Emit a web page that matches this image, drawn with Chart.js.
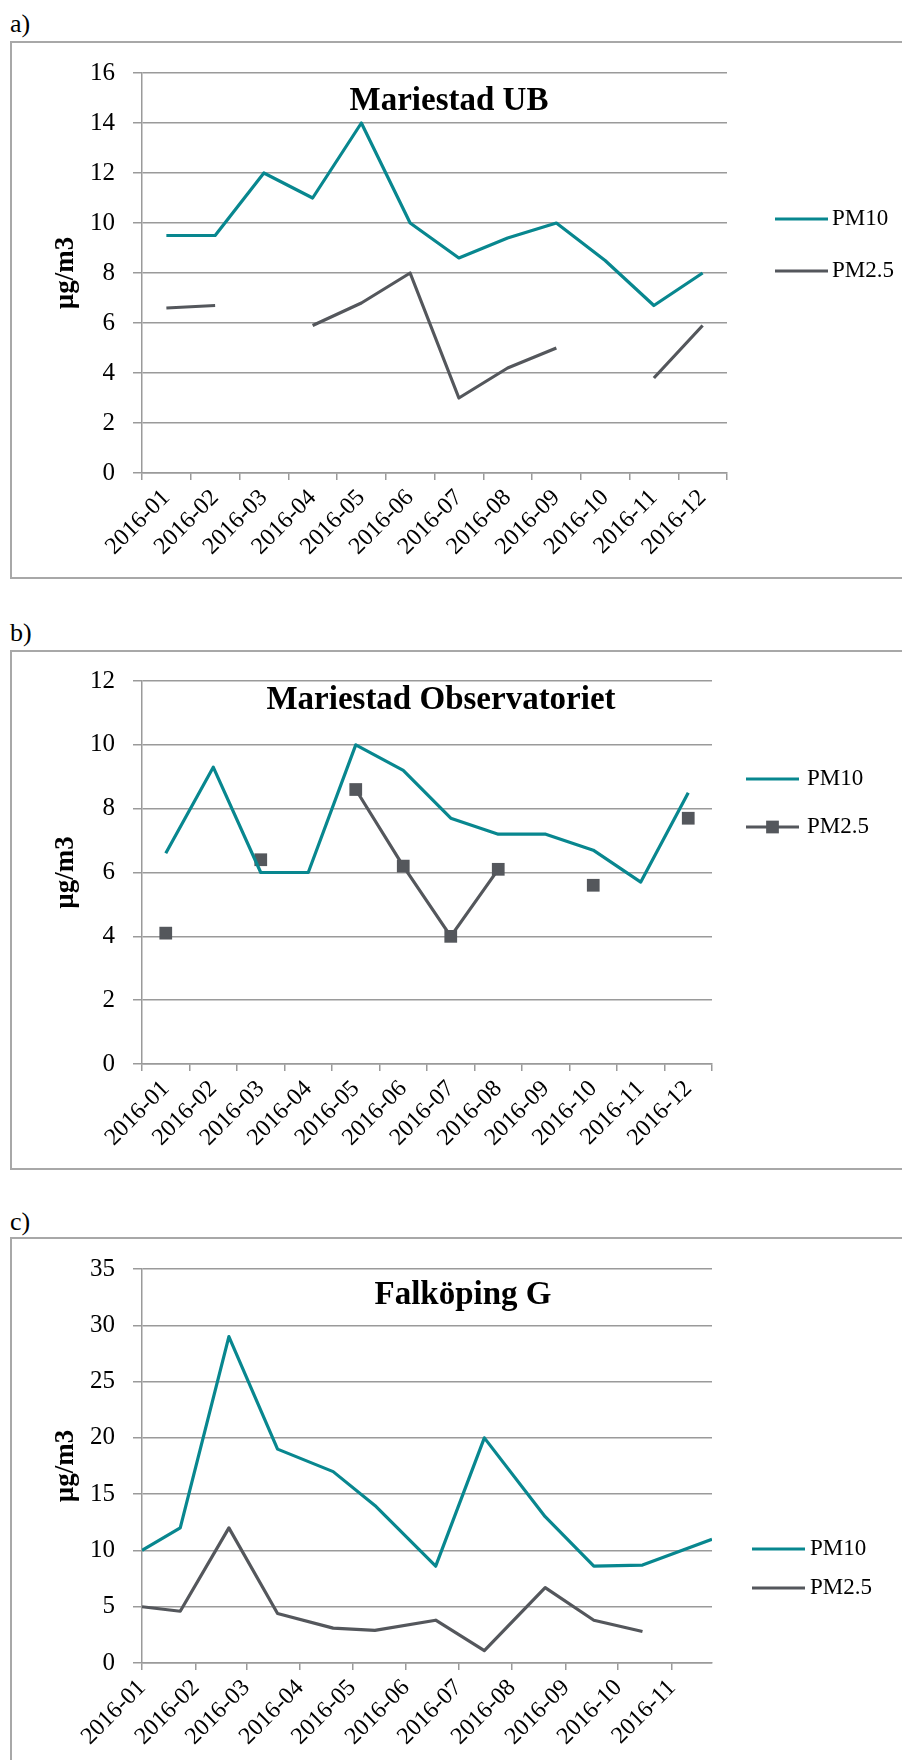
<!DOCTYPE html>
<html>
<head>
<meta charset="utf-8">
<script src="https://cdn.jsdelivr.net/npm/chart.js@4.4.1/dist/chart.umd.min.js"></script>
<style>
  html, body { margin: 0; padding: 0; background: #fff; }
  body { width: 902px; height: 1760px; position: relative; overflow: hidden; font-family: "Liberation Serif", serif; }
  .panel-label { position: absolute; left: 10px; font-size: 26px; line-height: 26px; color: #000; }
  .frame { position: absolute; left: 10px; width: 1000px; border: 2px solid #a8a8a8; box-sizing: border-box; }
  canvas { position: absolute; left: 0; }
</style>
</head>
<body>
<div class="panel-label" style="top:11px">a)</div>
<div class="frame" style="top:41px;height:538px"></div>
<div class="panel-label" style="top:620px">b)</div>
<div class="frame" style="top:650px;height:520px"></div>
<div class="panel-label" style="top:1209px">c)</div>
<div class="frame" style="top:1237px;height:600px"></div>

<canvas id="chartUB" width="902" height="580" style="top:0px"></canvas>
<canvas id="chartObs" width="902" height="570" style="top:600px"></canvas>
<canvas id="chartFalk" width="902" height="570" style="top:1190px"></canvas>

<script>
// Monthly means, Mariestad UB (µg/m3)
const months = ['2016-01', '2016-02', '2016-03', '2016-04', '2016-05', '2016-06',
                '2016-07', '2016-08', '2016-09', '2016-10', '2016-11', '2016-12'];
const ubPM10 = [9.5, 9.5, 12.0, 11.0, 14.0, 10.0, 8.6, 9.4, 10.0, 8.5, 6.7, 8.0];
const ubPM25 = [6.6, 6.7, null, 5.9, 6.8, 8.0, 3.0, 4.2, 5.0, null, 3.8, 5.9];

// Monthly means, Mariestad Observatoriet (µg/m3)
const obsPM10 = [6.6, 9.3, 6.0, 6.0, 10.0, 9.2, 7.7, 7.2, 7.2, 6.7, 5.7, 8.5];
const obsPM25 = [4.1, null, 6.4, null, 8.6, 6.2, 4.0, 6.1, null, 5.6, null, 7.7];

// Falköping G, sampling dates and values (µg/m3)
const falkDates = ['2016-01-01', '2016-01-23', '2016-02-20', '2016-03-19', '2016-04-20', '2016-05-14',
                   '2016-06-18', '2016-07-16', '2016-08-20', '2016-09-17', '2016-10-15', '2016-11-24'];
const falkPM10 = [10.0, 12.0, 29.0, 19.0, 17.0, 14.0, 8.6, 20.0, 13.0, 8.6, 8.7, 11.0];
const falkPM25 = [5.0, 4.6, 12.0, 4.4, 3.1, 2.9, 3.8, 1.1, 6.7, 3.8, 2.8, null];
const falkTickLabels = ['2016-01', '2016-02', '2016-03', '2016-04', '2016-05', '2016-06',
                        '2016-07', '2016-08', '2016-09', '2016-10', '2016-11'];

const TEAL = '#08878f';
const GREY = '#54575c';
const GRID = '#9a9a9a';
const SERIF = '"Liberation Serif", "Times New Roman", serif';

// days since 2016-01-01
function dayOfYear(s) {
  const [y, m, d] = s.split('-').map(Number);
  return (Date.UTC(y, m - 1, d || 1) - Date.UTC(2016, 0, 1)) / 86400000;
}

// Chart heading drawn inside the plot area
const innerTitle = {
  id: 'innerTitle',
  afterDraw(chart, args, opts) {
    const ctx = chart.ctx;
    ctx.save();
    ctx.font = 'bold 33px ' + SERIF;
    ctx.fillStyle = '#000';
    ctx.textAlign = 'center';
    ctx.textBaseline = 'alphabetic';
    ctx.fillText(opts.text, opts.x, opts.y);
    ctx.restore();
  }
};

// Legend to the right of the plot, one entry per dataset
const sideLegend = {
  id: 'sideLegend',
  afterDraw(chart, args, opts) {
    const ctx = chart.ctx;
    chart.data.datasets.forEach((ds, i) => {
      const y = opts.ys[i];
      ctx.save();
      ctx.strokeStyle = ds.borderColor;
      ctx.lineWidth = ds.borderWidth;
      ctx.beginPath();
      ctx.moveTo(opts.x1, y);
      ctx.lineTo(opts.x2, y);
      ctx.stroke();
      if (ds.pointRadius > 0) {
        const side = ds.pointRadius * Math.SQRT2;
        ctx.fillStyle = ds.pointBackgroundColor;
        ctx.fillRect((opts.x1 + opts.x2) / 2 - side / 2, y - side / 2, side, side);
      }
      ctx.fillStyle = '#000';
      ctx.font = '23px ' + SERIF;
      ctx.textAlign = 'left';
      ctx.textBaseline = 'middle';
      ctx.fillText(ds.label, opts.textX, y);
      ctx.restore();
    });
  }
};

function yScale(max, step) {
  return {
    min: 0, max: max,
    ticks: { stepSize: step, color: '#000', font: { family: SERIF, size: 25 }, padding: 18 },
    grid: { color: GRID, lineWidth: 1.5, tickLength: 9, drawTicks: true },
    border: { display: true, color: GRID, width: 1.5 },
    title: { display: true, text: 'µg/m3', color: '#000',
             font: { family: SERIF, size: 27, weight: 'bold' }, padding: { top: 50, bottom: 0 } },
    afterFit(scale) { scale.width = 142; }
  };
}

function categoryX(height) {
  return {
    type: 'category',
    offset: true,
    grid: { offset: true, drawOnChartArea: false, drawTicks: true, tickLength: 7, color: GRID, lineWidth: 1.5 },
    border: { display: true, color: GRID, width: 1.5 },
    ticks: { minRotation: 45, maxRotation: 45, autoSkip: false, color: '#000',
             font: { family: SERIF, size: 24 }, padding: 4 },
    afterFit(scale) { scale.height = height; }
  };
}

function lineSet(label, data, color, extra) {
  return Object.assign({
    label: label, data: data, borderColor: color, backgroundColor: color,
    borderWidth: 3.2, pointRadius: 0, pointHoverRadius: 0, tension: 0,
    spanGaps: false, borderJoinStyle: 'round', fill: false
  }, extra || {});
}

const common = {
  responsive: false,
  animation: false,
  events: [],
  plugins: { legend: { display: false }, tooltip: { enabled: false } }
};

// a) Mariestad UB
new Chart(document.getElementById('chartUB'), {
  type: 'line',
  data: {
    labels: months,
    datasets: [lineSet('PM10', ubPM10, TEAL), lineSet('PM2.5', ubPM25, GREY)]
  },
  options: Object.assign({}, common, {
    layout: { padding: { left: 0, top: 73, right: 175, bottom: 0 } },
    scales: { x: categoryX(107), y: yScale(16, 2) },
    plugins: Object.assign({}, common.plugins, {
      innerTitle: { text: 'Mariestad UB', x: 449, y: 110 },
      sideLegend: { x1: 775, x2: 828, textX: 832, ys: [219, 271] }
    })
  }),
  plugins: [innerTitle, sideLegend]
});

// b) Mariestad Observatoriet
new Chart(document.getElementById('chartObs'), {
  type: 'line',
  data: {
    labels: months,
    datasets: [
      lineSet('PM10', obsPM10, TEAL),
      lineSet('PM2.5', obsPM25, GREY, { pointRadius: 9, pointStyle: 'rect',
        pointBackgroundColor: GREY, pointBorderColor: GREY, pointBorderWidth: 0 })
    ]
  },
  options: Object.assign({}, common, {
    layout: { padding: { left: 0, top: 81, right: 190, bottom: 0 } },
    scales: { x: categoryX(106), y: yScale(12, 2) },
    plugins: Object.assign({}, common.plugins, {
      innerTitle: { text: 'Mariestad Observatoriet', x: 441, y: 109 },
      sideLegend: { x1: 746, x2: 799, textX: 807, ys: [179, 227] }
    })
  }),
  plugins: [innerTitle, sideLegend]
});

// c) Falköping G, on a day-based axis
const falkDays = falkDates.map(dayOfYear);
const falkTickDays = falkTickLabels.map(dayOfYear);
const toPoints = vals => falkDays.map((d, i) => ({ x: d, y: vals[i] }));

new Chart(document.getElementById('chartFalk'), {
  type: 'line',
  data: {
    datasets: [lineSet('PM10', toPoints(falkPM10), TEAL), lineSet('PM2.5', toPoints(falkPM25), GREY)]
  },
  options: Object.assign({}, common, {
    layout: { padding: { left: 0, top: 79, right: 190, bottom: 0 } },
    scales: {
      x: {
        type: 'linear',
        min: falkDays[0], max: falkDays[falkDays.length - 1],
        grid: { drawOnChartArea: false, drawTicks: true, tickLength: 7, color: GRID, lineWidth: 1.5 },
        border: { display: true, color: GRID, width: 1.5 },
        afterBuildTicks(scale) { scale.ticks = falkTickDays.map(v => ({ value: v })); },
        ticks: { minRotation: 45, maxRotation: 45, autoSkip: false, color: '#000',
                 font: { family: SERIF, size: 24 }, padding: 4,
                 callback: (value, index) => falkTickLabels[index] },
        afterFit(scale) { scale.height = 97; }
      },
      y: yScale(35, 5)
    },
    plugins: Object.assign({}, common.plugins, {
      innerTitle: { text: 'Falköping G', x: 463, y: 114 },
      sideLegend: { x1: 752, x2: 805, textX: 810, ys: [359, 398] }
    })
  }),
  plugins: [innerTitle, sideLegend]
});
</script>
</body>
</html>
